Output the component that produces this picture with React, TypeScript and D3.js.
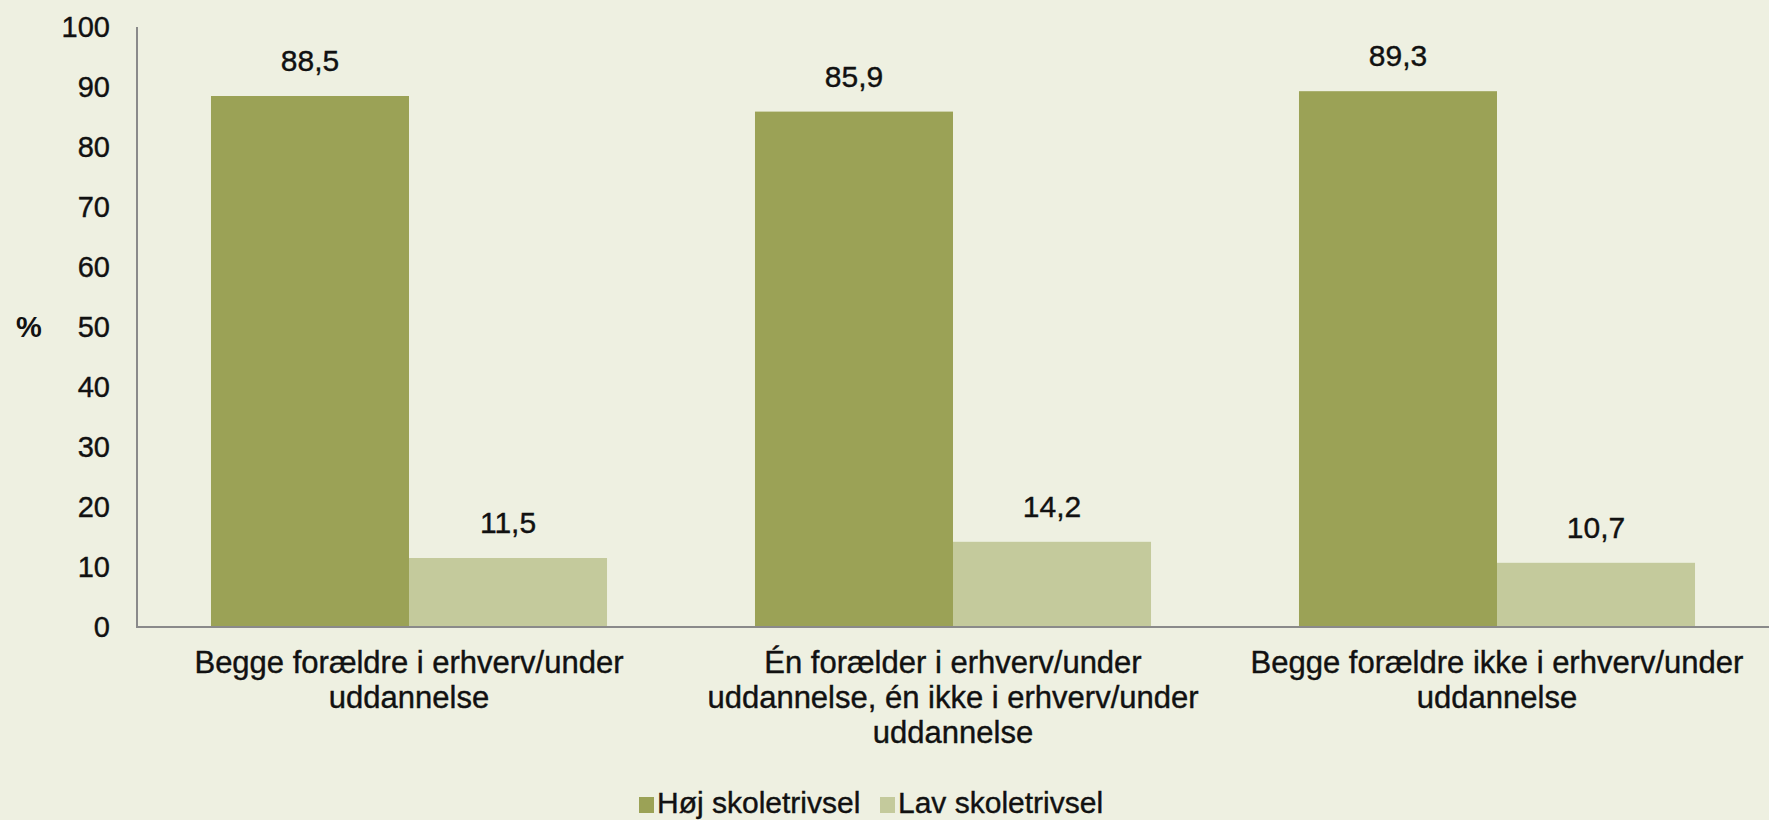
import React, { useEffect, useRef } from 'react';
import * as d3 from 'd3';

const categories = [
  ['Begge forældre i erhverv/under', 'uddannelse'],
  ['Én forælder i erhverv/under', 'uddannelse, én ikke i erhverv/under', 'uddannelse'],
  ['Begge forældre ikke i erhverv/under', 'uddannelse'],
];
const seriesNames = ['Høj skoletrivsel', 'Lav skoletrivsel'];
const hojValues = [88.5, 85.9, 89.3];
const lavValues = [11.5, 14.2, 10.7];
const yTicks = [0, 10, 20, 30, 40, 50, 60, 70, 80, 90, 100];

const colors = ['#9ba256', '#c4ca9c'];

export default function App() {
  const svgRef = useRef<SVGSVGElement>(null);

  useEffect(() => {
    if (!svgRef.current) return;
    d3.select(svgRef.current).selectAll('*').remove();

    const width = 1769;
    const height = 820;
    const margin = { top: 27, right: 0, bottom: 193, left: 137 };
    const font = '"Liberation Sans", Arial, sans-serif';
    const ink = '#111';

    const svg = d3.select(svgRef.current)
      .attr('width', width)
      .attr('height', height);

    svg.append('rect')
      .attr('width', width)
      .attr('height', height)
      .attr('fill', '#eef0e1');

    const x0 = d3.scaleBand<number>()
      .domain(categories.map((_, i) => i))
      .range([margin.left, width - margin.right])
      .paddingInner(0.272)
      .paddingOuter(0.136);

    const x1 = d3.scaleBand<number>()
      .domain([0, 1])
      .range([0, x0.bandwidth()]);

    const y = d3.scaleLinear()
      .domain([0, 100])
      .range([height - margin.bottom, margin.top]);

    const rows = categories.map((_, i) => [hojValues[i], lavValues[i]]);

    const groups = svg.selectAll('g.group')
      .data(rows)
      .enter()
      .append('g')
      .attr('class', 'group')
      .attr('transform', (_, i) => `translate(${x0(i)},0)`);

    groups.selectAll('rect')
      .data(d => d)
      .enter()
      .append('rect')
      .attr('x', (_, j) => x1(j)!)
      .attr('y', d => y(d))
      .attr('width', x1.bandwidth())
      .attr('height', d => y(0) - y(d))
      .attr('fill', (_, j) => colors[j]);

    groups.selectAll('text.value')
      .data(d => d)
      .enter()
      .append('text')
      .attr('class', 'value')
      .attr('x', (_, j) => x1(j)! + x1.bandwidth() / 2)
      .attr('y', d => y(d) - 25)
      .attr('text-anchor', 'middle')
      .style('font-family', font)
      .style('font-size', '30px')
      .attr('fill', ink)
      .attr('stroke', ink)
      .attr('stroke-width', 0.4)
      .text(d => d3.format('.1f')(d).replace('.', ','));

    // y axis
    svg.append('line')
      .attr('x1', margin.left)
      .attr('x2', margin.left)
      .attr('y1', y(100))
      .attr('y2', y(0))
      .attr('stroke', '#8a8a8a')
      .attr('stroke-width', 2);

    svg.selectAll('text.ytick')
      .data(yTicks)
      .enter()
      .append('text')
      .attr('class', 'ytick')
      .attr('x', 110)
      .attr('y', d => y(d))
      .attr('dy', '0.35em')
      .attr('text-anchor', 'end')
      .style('font-family', font)
      .style('font-size', '29px')
      .attr('fill', ink)
      .attr('stroke', ink)
      .attr('stroke-width', 0.4)
      .text(d => d);

    svg.append('text')
      .attr('x', 29)
      .attr('y', y(50))
      .attr('dy', '0.35em')
      .attr('text-anchor', 'middle')
      .style('font-family', font)
      .style('font-size', '29px')
      .style('font-weight', 'bold')
      .attr('fill', ink)
      .text('%');

    // x axis
    svg.append('line')
      .attr('x1', margin.left - 1)
      .attr('x2', width)
      .attr('y1', y(0))
      .attr('y2', y(0))
      .attr('stroke', '#8a8a8a')
      .attr('stroke-width', 2);

    const catLabels = svg.selectAll('text.cat')
      .data(categories)
      .enter()
      .append('text')
      .attr('class', 'cat')
      .attr('text-anchor', 'middle')
      .style('font-family', font)
      .style('font-size', '31px')
      .attr('fill', ink)
      .attr('stroke', ink)
      .attr('stroke-width', 0.4);

    catLabels.selectAll('tspan')
      .data((d, i) => d.map(line => ({ line, i })))
      .enter()
      .append('tspan')
      .attr('x', d => x0(d.i)! + x0.bandwidth() / 2)
      .attr('y', (_, k) => 673 + k * 35)
      .text(d => d.line);

    // legend
    const legendX = [639, 880];
    const legend = svg.selectAll('g.legend')
      .data(seriesNames)
      .enter()
      .append('g')
      .attr('class', 'legend')
      .attr('transform', (_, i) => `translate(${legendX[i]},797)`);

    legend.append('rect')
      .attr('width', 15)
      .attr('height', 16)
      .attr('fill', (_, i) => colors[i]);

    legend.append('text')
      .attr('x', 18)
      .attr('y', 16)
      .style('font-family', font)
      .style('font-size', '30px')
      .attr('fill', ink)
      .attr('stroke', ink)
      .attr('stroke-width', 0.4)
      .text(d => d);
  }, []);

  return <svg ref={svgRef} style={{ position: 'absolute', left: 0, top: 0, display: 'block' }}></svg>;
}
